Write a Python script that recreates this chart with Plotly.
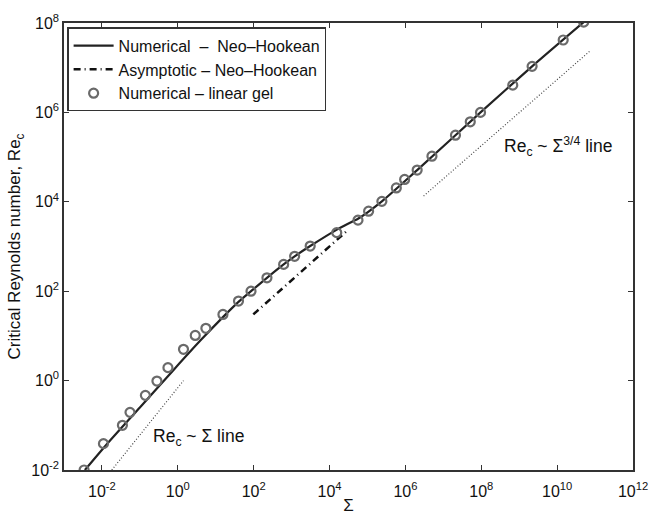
import numpy as np
import plotly.graph_objects as go

# ---- data (log10 values) ----
gel_log_sigma = [-2.47, -1.96, -1.46, -1.26, -0.855, -0.55, -0.26, 0.15, 0.46, 0.74,
                 1.19, 1.60, 1.93, 2.35, 2.79, 3.08, 3.49, 4.19, 4.75, 5.03, 5.38,
                 5.76, 5.98, 6.31, 6.70, 7.32, 7.71, 7.98, 8.83, 9.34, 10.16, 10.70]
gel_log_re = [-2.0, -1.41, -1.0, -0.71, -0.33, -0.01, 0.29, 0.70, 1.01, 1.17,
              1.48, 1.78, 2.0, 2.30, 2.60, 2.78, 3.01, 3.31, 3.59, 3.79, 4.01,
              4.31, 4.50, 4.71, 5.02, 5.49, 5.79, 6.00, 6.61, 7.03, 7.62, 8.02]

nh_log_sigma = [-2.45, -1.9, -1.0, -0.1, 0.6, 1.19, 1.60, 1.93, 2.35, 2.79, 3.08, 3.49,
                4.24, 4.63, 4.75, 5.38, 6.31, 7.98, 9.34, 10.70]
nh_log_re = [-2.0, -1.45, -0.6, 0.25, 0.90, 1.42, 1.76, 2.0, 2.30, 2.60, 2.78, 3.01,
             3.40, 3.57, 3.62, 4.01, 4.71, 6.00, 7.03, 8.02]

asym_log_sigma = [1.99, 4.50]
asym_log_re = [1.48, 3.38]

lin_log_sigma = [-1.74, 0.15]
lin_log_re = [-2.0, 0.0]

p34_log_sigma = [6.48, 10.86]
p34_log_re = [4.13, 7.37]

x_tick_exp = [-2, 0, 2, 4, 6, 8, 10, 12]
y_tick_exp = [-2, 0, 2, 4, 6, 8]

def p10(a):
    return [10.0 ** v for v in a]

FONT = "Liberation Sans, Arial, Helvetica, sans-serif"

fig = go.Figure()
fig.add_trace(go.Scatter(x=p10(nh_log_sigma), y=p10(nh_log_re), mode="lines",
                         line=dict(color="#222222", width=2.2, shape="spline", smoothing=0.7),
                         name="Numerical  –  Neo–Hookean"))
fig.add_trace(go.Scatter(x=p10(asym_log_sigma), y=p10(asym_log_re), mode="lines",
                         line=dict(color="#111111", width=2.5, dash="7px,4px,1px,4px"),
                         name="Asymptotic – Neo–Hookean"))
fig.add_trace(go.Scatter(x=p10(gel_log_sigma), y=p10(gel_log_re), mode="markers",
                         marker=dict(symbol="circle-open", size=9, color="#6a6a6a",
                                     line=dict(width=2.2, color="#6a6a6a")),
                         name="Numerical – linear gel"))
fig.add_trace(go.Scatter(x=p10(lin_log_sigma), y=p10(lin_log_re), mode="lines",
                         line=dict(color="#444444", width=1.2, dash="1px,2px"),
                         showlegend=False))
fig.add_trace(go.Scatter(x=p10(p34_log_sigma), y=p10(p34_log_re), mode="lines",
                         line=dict(color="#444444", width=1.2, dash="1px,2px"),
                         showlegend=False))

fig.add_annotation(x=-0.70, y=-1.27, xref="x", yref="y", xanchor="left", yanchor="middle",
                   text="Re<sub>c</sub> ~ Σ line", showarrow=False,
                   font=dict(size=17.5, color="#111111", family=FONT))
fig.add_annotation(x=8.55, y=5.24, xref="x", yref="y", xanchor="left", yanchor="middle",
                   text="Re<sub>c</sub> ~ Σ<sup>3/4</sup> line", showarrow=False,
                   font=dict(size=17.5, color="#111111", family=FONT))

axis_common = dict(showgrid=False, zeroline=False, showline=True, linecolor="#333333",
                   linewidth=1.5, mirror="ticks", ticks="inside", ticklen=5,
                   tickcolor="#333333", tickwidth=1.2,
                   tickfont=dict(size=16, color="#111111", family=FONT))

fig.update_xaxes(type="log", range=[-3, 12],
                 tickvals=[10.0 ** e for e in x_tick_exp],
                 ticktext=["10<sup>%d</sup>" % e for e in x_tick_exp],
                 ticklabelstandoff=6,
                 title=dict(text="Σ", standoff=4, font=dict(size=17, color="#111111", family=FONT)),
                 **axis_common)
fig.update_yaxes(type="log", range=[-2, 8],
                 tickvals=[10.0 ** e for e in y_tick_exp],
                 ticktext=["10<sup>%d</sup>" % e for e in y_tick_exp],
                 title=dict(text="Critical Reynolds number, Re<sub>c</sub>", standoff=6,
                            font=dict(size=17, color="#111111", family=FONT)),
                 **axis_common)

fig.update_layout(
    width=649, height=515,
    margin=dict(l=64, r=16, t=23, b=45, autoexpand=False),
    paper_bgcolor="white", plot_bgcolor="white",
    font=dict(family=FONT, size=16, color="#111111"),
    legend=dict(x=0.006, y=0.99, xanchor="left", yanchor="top",
                bordercolor="#333333", borderwidth=1.2, bgcolor="white",
                font=dict(size=16, family=FONT, color="#111111"),
                tracegroupgap=0, itemwidth=40),
)

fig.write_html("out.html")
